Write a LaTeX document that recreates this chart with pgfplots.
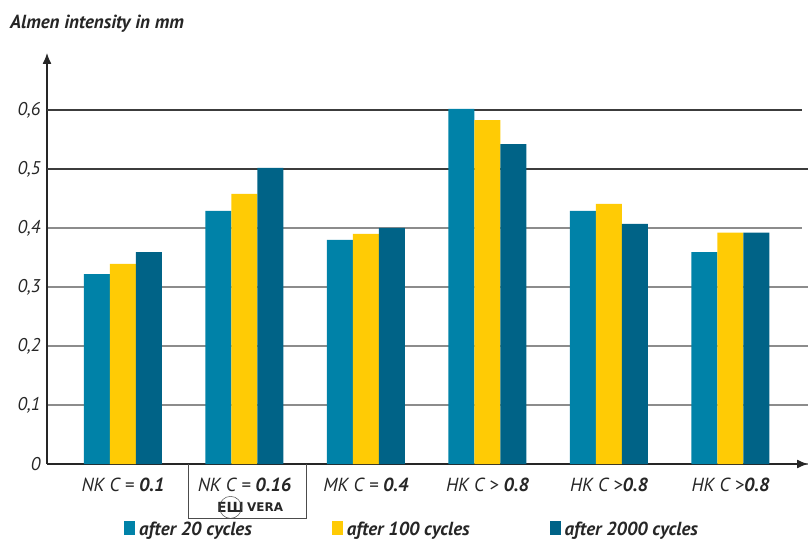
\documentclass[border=0pt]{standalone}
\usepackage{fontspec}
\setmainfont{PT Sans}
\newfontfamily\dejavu{DejaVu Sans}
\usepackage{pgfplots}
\pgfplotsset{compat=1.18}
\usetikzlibrary{arrows.meta}
\definecolor{cteal}{RGB}{0,130,168}
\definecolor{cyellow}{RGB}{255,203,5}
\definecolor{cdark}{RGB}{0,99,135}
\definecolor{gridgrey}{RGB}{140,140,140}
\definecolor{griddark}{RGB}{60,60,60}
\begin{document}
\begin{tikzpicture}
\useasboundingbox (0,0) rectangle (810bp,539bp);
\node[anchor=base west, inner sep=0pt, font=\fontsize{19}{21}\selectfont\bfseries\itshape, text=black!85] at (10bp,510bp) {Almen intensity in mm};
\begin{axis}[
  at={(47bp,75bp)}, anchor=south west,
  scale only axis, width=761bp, height=411bp,
  xmin=-0.6255, xmax=5.638, ymin=0, ymax=0.6966,
  axis lines=left,
  axis line style={line width=1.3bp, black!85, -{Latex[length=11bp,width=9bp]}},
  ybar=0pt, bar width=0.214,
  xtick=data,
  xticklabels={{NK C = \textbf{0.1}},{NK C = \textbf{0.16}},{MK C = \textbf{0.4}},{HK C > \textbf{0.8}},{HK C >\textbf{0.8}},{HK C >\textbf{0.8}}},
  xticklabel style={font=\fontsize{19}{21}\selectfont\itshape, text=black!85, yshift=-10bp},
  ytick={0,0.1,0.2,0.3,0.4},
  extra y ticks={0.5,0.6},
  extra y tick style={grid style={griddark, line width=1.5bp, shorten >=6bp}},
  ymajorgrids, grid style={gridgrey, line width=1.2bp, shorten >=6bp},
  major tick length=0pt,
  yticklabel style={font=\fontsize{18.5}{20}\selectfont\itshape, text=black!85, xshift=-3bp},
  /pgf/number format/.cd, fixed, use comma, precision=1, assume math mode=true,
  /pgfplots/.cd,
  clip=false,
  legend columns=3,
  legend style={draw=none, fill=none, at={(0.481,-0.159)}, anchor=center,
    font=\fontsize{19}{21}\selectfont\bfseries\itshape, text=black!85,
    /tikz/every even column/.append style={column sep=76bp},
    nodes={inner xsep=4bp}},
  legend image code/.code={\fill[#1] (0bp,-6bp) rectangle (11bp,8bp);},
]
\addplot[fill=cteal, draw=none] coordinates {(0,0.322) (1,0.429) (2,0.380) (3,0.602) (4,0.429) (5,0.359)};
\addplot[fill=cyellow, draw=none] coordinates {(0,0.339) (1,0.458) (2,0.390) (3,0.583) (4,0.441) (5,0.392)};
\addplot[fill=cdark, draw=none] coordinates {(0,0.359) (1,0.502) (2,0.400) (3,0.542) (4,0.407) (5,0.392)};
\legend{after 20 cycles, after 100 cycles, after 2000 cycles}
\draw[black!70, line width=1bp] (axis cs:0.543,0) -- (axis cs:0.543,-0.0932) -- (axis cs:1.514,-0.0932) -- (axis cs:1.514,0);
\node[font=\fontsize{14}{16}\selectfont\dejavu\bfseries, text=black!85, inner sep=0pt] at (axis cs:0.885,-0.0735) {EШ};
\draw[black!70, line width=0.5bp] (axis cs:0.885,-0.0735) circle (11bp);
\node[font=\fontsize{12}{14}\selectfont\dejavu\bfseries, text=black!85, inner sep=0pt] at (axis cs:1.17,-0.0735) {VERA};
\end{axis}
\end{tikzpicture}
\end{document}
